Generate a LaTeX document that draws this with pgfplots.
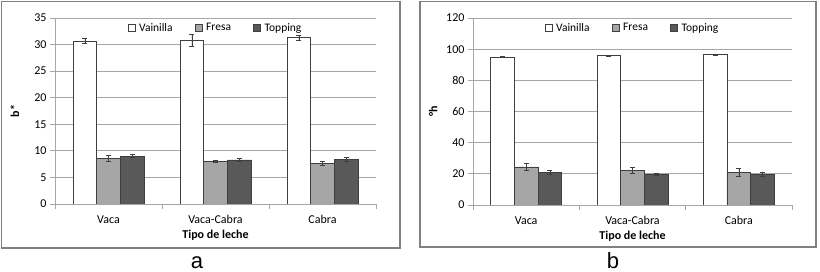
\documentclass[border=0pt]{standalone}
\usepackage{fontspec}
\setmainfont{Carlito}
\newfontfamily\arialfont{Liberation Sans}
\usepackage{pgfplots}
\pgfplotsset{compat=1.18}

\definecolor{fresa}{HTML}{A6A6A6}
\definecolor{topping}{HTML}{595959}
\definecolor{edge}{HTML}{3F3F3F}
\definecolor{gridc}{HTML}{A6A6A6}
\definecolor{framec}{HTML}{808080}

\pgfplotsset{
 mybar/.style={
  scale only axis,
  ybar=0pt, bar width=23.7pt,
  xmin=-0.5, xmax=2.5,
  xtick={0,1,2}, xticklabels={Vaca,Vaca-Cabra,Cabra},
  ymin=0,
  axis x line*=bottom, axis y line*=left,
  axis line style={gridc, line width=0.8pt},
  ymajorgrids, major grid style={gridc, line width=0.8pt},
  tick align=outside, major tick length=5pt,
  ytick style={gridc, line width=0.8pt},
  xtick style={draw=none},
  extra x ticks={-0.5,0.5,1.5,2.5}, extra x tick labels={},
  extra x tick style={xtick style={draw=gridc,line width=0.8pt}},
  tick label style={font=\fontsize{12}{13}\selectfont},
  xticklabel style={yshift=-3pt},
  /pgf/number format/assume math mode=true,
  label style={font=\fontsize{12}{13}\selectfont\bfseries},
  xlabel={Tipo de leche},
  xlabel style={at={(axis description cs:0.5,0)}, anchor=center, yshift=-31pt},
  ylabel style={at={(axis description cs:-0.125,0.5)}, anchor=center},
  legend style={at={(axis description cs:0.5,0.995)}, anchor=north, draw=none, fill=none,
    legend columns=3, font=\fontsize{11.5}{13}\selectfont,
    /tikz/every even column/.append style={column sep=20pt}},
  legend image code/.code={\draw[#1, draw=edge, line width=0.5pt] (0pt,-3pt) rectangle (7pt,4pt); \path (9pt,0pt);},
  every axis plot/.append style={draw=edge, line width=0.6pt,
    error bars/y dir=both, error bars/y explicit,
    error bars/error mark options={rotate=90, mark size=2.5pt, draw=edge, line width=0.6pt},
    error bars/error bar style={edge, line width=0.6pt}},
 }
}

\begin{document}
\begin{tikzpicture}
\useasboundingbox (0pt,0pt) rectangle (820pt,272pt);
\draw[framec, line width=1.2pt] (1.5pt,24pt) rectangle (400pt,270.5pt);
\draw[framec, line width=1.2pt] (420pt,25pt) rectangle (816pt,270.5pt);

\begin{axis}[mybar, at={(55pt,68pt)}, anchor=south west, width=321pt, height=186pt,
  ymax=35, ytick={0,5,...,35}, ylabel={b*}]
\addplot[fill=white] coordinates {(0,30.7) +- (0,0.5) (1,30.8) +- (0,1.2) (2,31.3) +- (0,0.5)};
\addplot[fill=fresa] coordinates {(0,8.6) +- (0,0.5) (1,8.0) +- (0,0.15) (2,7.7) +- (0,0.4)};
\addplot[fill=topping] coordinates {(0,9.0) +- (0,0.3) (1,8.3) +- (0,0.3) (2,8.4) +- (0,0.35)};
\legend{Vainilla,Fresa,Topping}
\end{axis}

\begin{axis}[mybar, at={(473pt,67pt)}, anchor=south west, width=319pt, height=187pt,
  ymax=120, ytick={0,20,...,120}, ylabel={°h}]
\addplot[fill=white] coordinates {(0,95.0) +- (0,0.3) (1,95.8) +- (0,0.3) (2,96.6) +- (0,0.3)};
\addplot[fill=fresa] coordinates {(0,24.5) +- (0,2.5) (1,22.2) +- (0,2.0) (2,21.0) +- (0,2.8)};
\addplot[fill=topping] coordinates {(0,21.0) +- (0,1.0) (1,19.8) +- (0,0.7) (2,19.6) +- (0,1.2)};
\legend{Vainilla,Fresa,Topping}
\end{axis}

\node[font=\arialfont\fontsize{22}{24}\selectfont] at (197pt,9pt) {a};
\node[font=\arialfont\fontsize{22}{24}\selectfont] at (613pt,11pt) {b};
\end{tikzpicture}
\end{document}
